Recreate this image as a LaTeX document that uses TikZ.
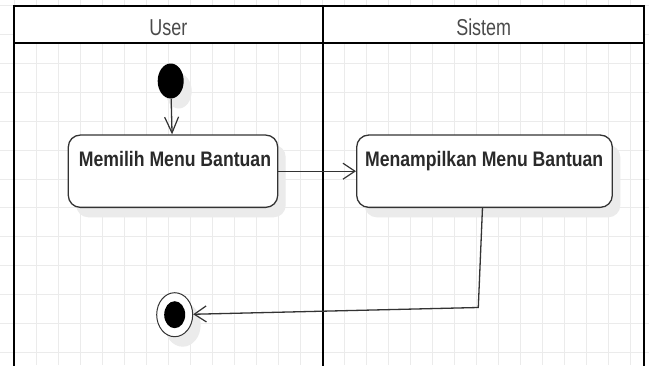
\documentclass[tikz,border=0pt]{standalone}
\usepackage{fontspec}
\usepackage{graphicx}
\setmainfont{Liberation Sans}
\usetikzlibrary{arrows.meta,shapes.geometric}
\definecolor{gridc}{HTML}{EBEBEB}
\definecolor{shad}{HTML}{EBEBEB}
\definecolor{linec}{HTML}{333333}
\definecolor{hdrtext}{HTML}{4A4A4A}
\definecolor{boxtext}{HTML}{2A2A2A}
\begin{document}
\begin{tikzpicture}[x=1pt,y=-1pt,
  gridline/.style={draw=gridc, line width=0.8pt},
  frame/.style={draw=black, line width=2.4pt},
  divider/.style={draw=black, line width=2pt},
  hdr/.style={anchor=base, inner sep=0pt, text=hdrtext, font=\fontsize{23}{23}\selectfont},
  actbox/.style={draw=linec, line width=1.3pt, fill=white, rounded corners=12pt, minimum height=72.3pt, inner sep=0pt},
  boxlabel/.style={anchor=base, inner sep=0pt, text=boxtext, font=\fontsize{21}{21}\selectfont\bfseries},
  startn/.style={shape=ellipse, fill=black, minimum width=26pt, minimum height=35pt, inner sep=0pt},
  finn/.style={shape=ellipse, draw=linec, line width=1pt, fill=white, minimum width=36pt, minimum height=44pt, inner sep=0pt},
  finin/.style={shape=ellipse, fill=black, minimum width=21pt, minimum height=27pt, inner sep=0pt},
  arr/.style={draw=linec, line width=1.3pt, -{Straight Barb[length=12pt, width=16pt, line width=1.2pt]}},
  varr/.style={draw=linec, line width=1.3pt, -{Straight Barb[length=16pt, width=14pt, line width=1.2pt]}}
]
\useasboundingbox (0,0) rectangle (649,365);
\fill[white] (0,0) rectangle (649,365);
% background grid
\foreach \k in {0,...,30} \draw[gridline] ({-7.3+22*\k},0) -- ({-7.3+22*\k},365);
\foreach \k in {0,...,12} \draw[gridline] (0,{5.5+28.9*\k}) -- (649,{5.5+28.9*\k});
% header band
\fill[white] (14,6) rectangle (644,43);
% swimlane frame
\draw[frame] (14,366) -- (14,6) -- (644,6) -- (644,366);
\draw[divider] (14,43) -- (644,43);
\draw[divider] (323,6) -- (323,366);
\node[hdr] (hu) at (168.3,35) {\scalebox{0.78}[1]{User}};
\node[hdr] (hs) at (483.7,35) {\scalebox{0.78}[1]{Sistem}};
% shadows
\fill[shad, rounded corners=12pt] (76.3,145) rectangle (285.7,217.3);
\fill[shad, rounded corners=12pt] (364.7,145) rectangle (620.3,217.3);
\fill[shad] (178.7,91) ellipse [x radius=13, y radius=17.5];
\fill[shad] (182.7,324.7) ellipse [x radius=18, y radius=22];
% nodes
\node[startn] (st) at (170.7,81) {};
\node[actbox, minimum width=209.4pt] (b1) at (173,171.2) {};
\node[boxlabel] (t1) at (175,166.7) {\scalebox{0.84}[1]{Memilih Menu Bantuan}};
\node[actbox, minimum width=255.6pt] (b2) at (484.5,171.2) {};
\node[boxlabel] (t2) at (484.2,166.7) {\scalebox{0.84}[1]{Menampilkan Menu Bantuan}};
\node[finn] (fin) at (174.7,314.7) {};
\node[finin] (finc) at (fin.center) {};
% connectors
\draw[varr] (st) -- (b1);
\draw[arr] (b1) -- (b2);
\coordinate (c0) at (482.5,207.3);
\coordinate (c1) at (478.3,307.5);
\draw[arr] (c0) -- (c1) -- (fin);
\end{tikzpicture}
\end{document}
